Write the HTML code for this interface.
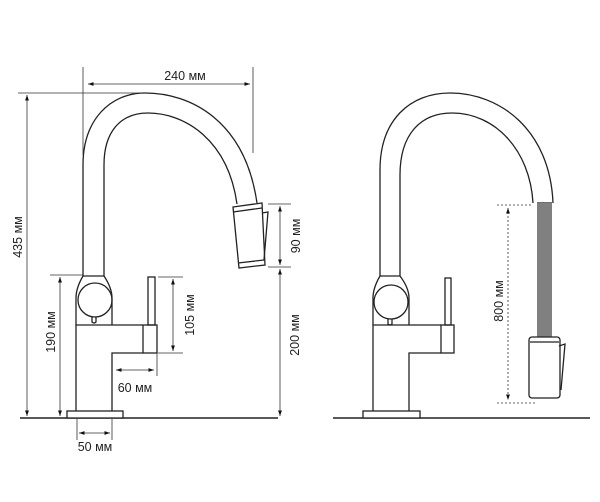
<!DOCTYPE html>
<html><head><meta charset="utf-8"><style>
html,body{margin:0;padding:0;background:#fff}
svg{display:block}
text{font-family:"Liberation Sans",sans-serif;font-size:12.5px;fill:#222}
</style></head><body>
<svg width="600" height="502" viewBox="0 0 600 502" xmlns="http://www.w3.org/2000/svg">
<defs>
<marker id="a" viewBox="0 0 10 10" refX="10" refY="5" markerWidth="7" markerHeight="7" orient="auto-start-reverse"><path d="M0,1.5 L10,5 L0,8.5 z" fill="#111"/></marker>
</defs>
<g fill="none" stroke="#222" stroke-width="1.3">
<!-- LEFT FAUCET -->
<line x1="20" y1="418" x2="278" y2="418" stroke-width="1.6"/>
<rect x="67" y="411" width="56" height="7" fill="#fff"/>
<path d="M76,411 V325 H143 M112,411 V353 H143"/>
<rect x="143" y="325" width="14" height="28"/>
<rect x="148" y="277" width="7" height="48"/>
<path d="M76,325 V298 Q76,288 83,276 M112,325 V298 Q112,288 104,276"/>
<line x1="83" y1="276" x2="104" y2="276"/>
<circle cx="95" cy="300" r="17"/>
<path d="M92,317 v5 q2,2 4,0 v-5"/>
<path d="M83,276 V165 C83,120 110,93 145,93 C190,93 245,120 257,203"/>
<path d="M104,276 V165 C104,130 122,113 148,113 C185,113 228,140 237,204"/>
<path d="M233,207 L262,203 L265,265 L239,268 Z" fill="#fff"/>
<line x1="233" y1="212" x2="262" y2="208"/>
<line x1="238" y1="263" x2="264" y2="260"/>
<path d="M262,213 L268,212 L264,260"/>
<!-- RIGHT FAUCET -->
<line x1="333" y1="418" x2="590" y2="418" stroke-width="1.6"/>
<rect x="363" y="411" width="57" height="7" fill="#fff"/>
<path d="M373,411 V325 H441 M409,411 V353 H441"/>
<rect x="441" y="325" width="13" height="28"/>
<rect x="445" y="278" width="6" height="47"/>
<path d="M373,325 V298 Q373,288 380,276 M409,325 V298 Q409,288 400,276"/>
<line x1="380" y1="276" x2="400" y2="276"/>
<circle cx="391" cy="302" r="17"/>
<path d="M388,319 v5 q2,2 4,0 v-5"/>
<path d="M380,276 V170 C380,120 410,93 450,93 C500,93 550,130 553,203"/>
<path d="M400,276 V175 C400,135 420,113 452,113 C495,113 530,150 533,203"/>
<line x1="537" y1="203" x2="552" y2="203"/>
<rect x="537" y="203" width="15" height="134" fill="#808080" stroke="none"/>
<rect x="529" y="337" width="31" height="61" rx="3" fill="#fff"/>
<line x1="530" y1="342" x2="559" y2="342"/>
<path d="M559,346 L565,344 L561,390"/>
<!-- DIMENSIONS -->
<g stroke-width="0.8" stroke="#333">
<line x1="83" y1="67" x2="83" y2="155"/>
<line x1="253" y1="67" x2="253" y2="153"/>
<line x1="88" y1="84" x2="250" y2="84" marker-start="url(#a)" marker-end="url(#a)"/>
<line x1="18" y1="93" x2="143" y2="93"/>
<line x1="27" y1="95" x2="27" y2="416" marker-start="url(#a)" marker-end="url(#a)"/>
<line x1="50" y1="275" x2="83" y2="275"/>
<line x1="60" y1="277" x2="60" y2="416" marker-start="url(#a)" marker-end="url(#a)"/>
<line x1="158" y1="277" x2="183" y2="277"/>
<line x1="158" y1="353" x2="183" y2="353"/>
<line x1="173" y1="279" x2="173" y2="351" marker-start="url(#a)" marker-end="url(#a)"/>
<line x1="157" y1="353" x2="157" y2="376"/>
<line x1="116" y1="370" x2="154" y2="370" marker-start="url(#a)" marker-end="url(#a)"/>
<line x1="77" y1="419" x2="77" y2="440"/>
<line x1="112" y1="419" x2="112" y2="440"/>
<line x1="79" y1="433" x2="110" y2="433" marker-start="url(#a)" marker-end="url(#a)"/>
<line x1="268" y1="204" x2="291" y2="204"/>
<line x1="268" y1="267" x2="291" y2="267"/>
<line x1="280" y1="206" x2="280" y2="265" marker-start="url(#a)" marker-end="url(#a)"/>
<line x1="280" y1="269" x2="280" y2="416" marker-start="url(#a)" marker-end="url(#a)"/>
<g stroke-dasharray="2,2">
<line x1="497" y1="205" x2="533" y2="205"/>
<line x1="497" y1="403" x2="537" y2="403"/>
<line x1="508" y1="208" x2="508" y2="400" marker-start="url(#a)" marker-end="url(#a)"/>
</g>
</g>
</g>
<text x="185" y="80" text-anchor="middle">240 мм</text>
<text x="135" y="392" text-anchor="middle">60 мм</text>
<text x="95" y="451" text-anchor="middle">50 мм</text>
<text transform="translate(22,237) rotate(-90)" text-anchor="middle">435 мм</text>
<text transform="translate(55,332) rotate(-90)" text-anchor="middle">190 мм</text>
<text transform="translate(194,315) rotate(-90)" text-anchor="middle">105 мм</text>
<text transform="translate(300,236) rotate(-90)" text-anchor="middle">90 мм</text>
<text transform="translate(299,335) rotate(-90)" text-anchor="middle">200 мм</text>
<text transform="translate(503,301) rotate(-90)" text-anchor="middle">800 мм</text>
</svg>
</body></html>
